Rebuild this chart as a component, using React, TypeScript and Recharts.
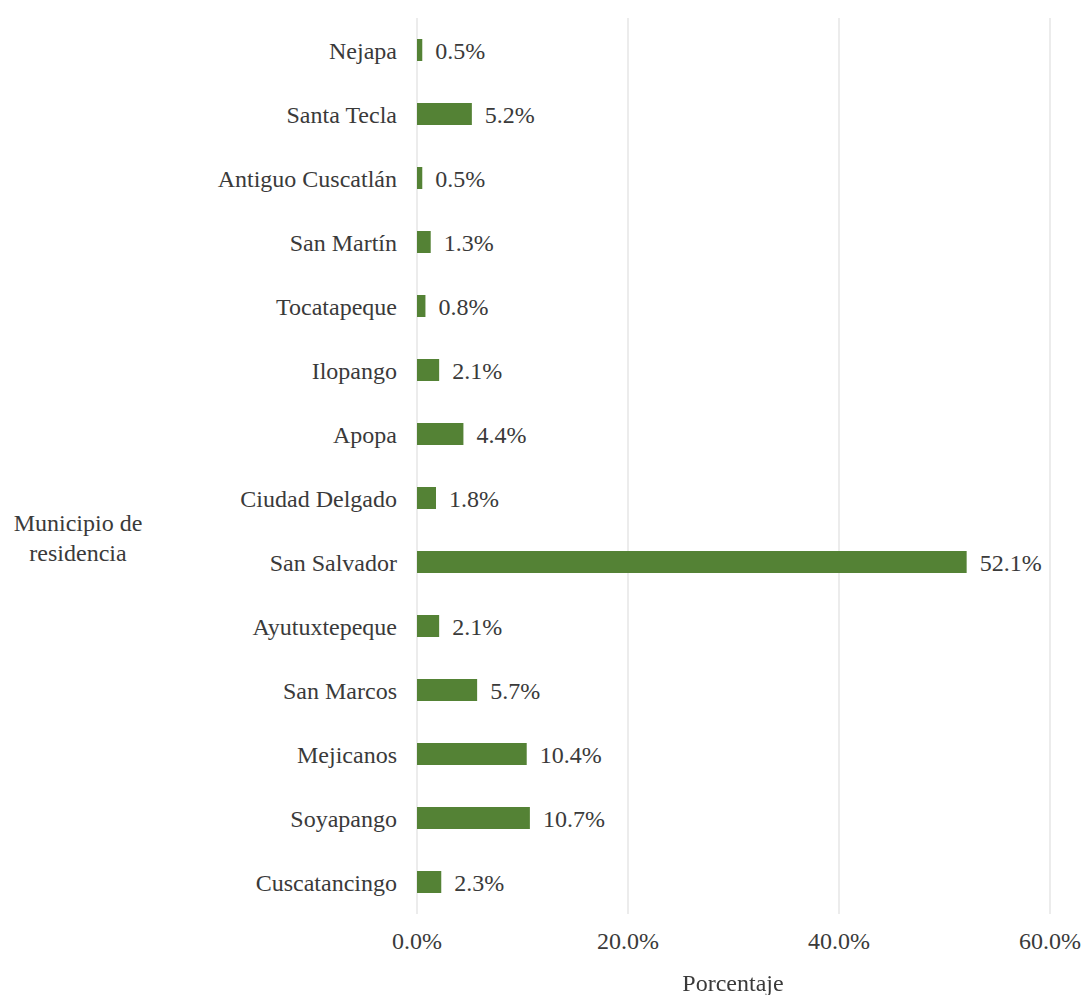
import { Bar, BarChart, CartesianGrid, LabelList, XAxis, YAxis } from "recharts";

const municipios = [
  "Nejapa",
  "Santa Tecla",
  "Antiguo Cuscatlán",
  "San Martín",
  "Tocatapeque",
  "Ilopango",
  "Apopa",
  "Ciudad Delgado",
  "San Salvador",
  "Ayutuxtepeque",
  "San Marcos",
  "Mejicanos",
  "Soyapango",
  "Cuscatancingo",
];

const porcentajes = [0.5, 5.2, 0.5, 1.3, 0.8, 2.1, 4.4, 1.8, 52.1, 2.1, 5.7, 10.4, 10.7, 2.3];

const xTicks = [0, 20, 40, 60];

const FONT = "Liberation Serif";
const TEXT = "#3a3a3a";

const chartData = municipios.map((name, i) => ({ name, value: porcentajes[i] }));

const pct = (v: number) => `${Number(v).toFixed(1)}%`;

export default function App() {
  return (
    <div
      style={{
        position: "fixed",
        left: 0,
        top: 0,
        width: 1086,
        height: 995,
        background: "#fff",
        fontFamily: FONT,
      }}
    >
      <BarChart
        layout="vertical"
        width={1086}
        height={995}
        data={chartData}
        margin={{ top: 18, right: 36, bottom: 41, left: 0 }}
        barCategoryGap={21}
        style={{ fontFamily: FONT }}
      >
        <CartesianGrid horizontal={false} stroke="#d9d9d9" />
        <XAxis
          type="number"
          domain={[0, 60]}
          ticks={xTicks}
          tickFormatter={pct}
          axisLine={false}
          tickLine={false}
          tickSize={0}
          tickMargin={18}
          height={40}
          tick={{ fill: TEXT, fontSize: 24, fontFamily: FONT }}
        />
        <YAxis
          type="category"
          dataKey="name"
          width={417}
          axisLine={false}
          tickLine={false}
          tickSize={0}
          tickMargin={20}
          interval={0}
          tick={{ fill: TEXT, fontSize: 24, fontFamily: FONT }}
        />
        <Bar dataKey="value" fill="#548235" barSize={22} isAnimationActive={false}>
          <LabelList
            dataKey="value"
            position="right"
            offset={13}
            formatter={(v: any) => pct(v)}
            style={{ fill: TEXT, fontSize: 24, fontFamily: FONT }}
          />
        </Bar>
      </BarChart>
      <div
        style={{
          position: "absolute",
          left: 0,
          width: 156,
          top: 508,
          textAlign: "center",
          fontSize: 24,
          lineHeight: "30px",
          color: TEXT,
        }}
      >
        Municipio de
        <br />
        residencia
      </div>
      <div
        style={{
          position: "absolute",
          left: 633,
          width: 200,
          top: 968,
          textAlign: "center",
          fontSize: 24,
          lineHeight: "30px",
          color: TEXT,
        }}
      >
        Porcentaje
      </div>
    </div>
  );
}
